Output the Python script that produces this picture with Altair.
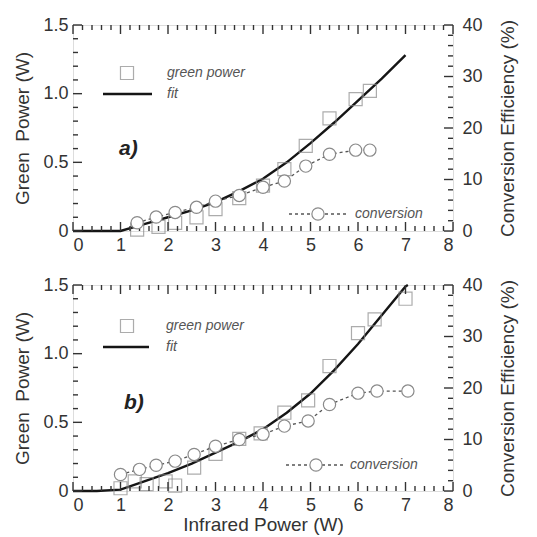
import altair as alt
import pandas as pd

# ---------------- Panel a) ----------------
ir_green_a = [1.35, 1.8, 2.15, 2.6, 3.0, 3.5, 4.0, 4.45, 4.9, 5.4, 5.95, 6.25]
green_a = [0.01, 0.03, 0.06, 0.10, 0.16, 0.24, 0.33, 0.45, 0.62, 0.82, 0.96, 1.02]
ir_conv_a = [1.35, 1.75, 2.15, 2.6, 3.0, 3.5, 4.0, 4.45, 4.9, 5.4, 5.95, 6.25]
conv_a = [1.6, 2.7, 3.6, 4.6, 5.8, 6.9, 8.5, 9.7, 12.6, 14.9, 15.7, 15.7]
fit_x_a = [0, 0.5, 1.0, 1.5, 2.0, 2.5, 3.0, 3.5, 4.0, 4.5, 5.0, 5.5, 6.0, 6.5, 7.0]
fit_a = [0, 0, 0.0, 0.05, 0.10, 0.15, 0.21, 0.29, 0.38, 0.50, 0.64, 0.79, 0.95, 1.11, 1.28]

# ---------------- Panel b) ----------------
ir_green_b = [1.0, 1.3, 1.55, 1.95, 2.15, 2.55, 3.0, 3.5, 3.95, 4.45, 4.95, 5.4, 6.0, 6.35, 7.0]
green_b = [0.02, 0.07, 0.05, 0.07, 0.04, 0.17, 0.27, 0.38, 0.42, 0.57, 0.66, 0.91, 1.15, 1.25, 1.40]
ir_conv_b = [1.0, 1.4, 1.75, 2.15, 2.55, 3.0, 3.5, 4.0, 4.45, 4.95, 5.4, 6.0, 6.4, 7.05]
conv_b = [3.2, 4.2, 5.0, 5.8, 7.1, 8.7, 10.0, 11.0, 12.6, 13.6, 16.8, 19.0, 19.4, 19.4]
fit_x_b = [0, 0.5, 1.0, 1.5, 2.0, 2.5, 3.0, 3.5, 4.0, 4.5, 5.0, 5.5, 6.0, 6.5, 7.0, 7.05]
fit_b = [0, 0, 0.01, 0.07, 0.13, 0.20, 0.28, 0.36, 0.45, 0.57, 0.71, 0.88, 1.07, 1.28, 1.49, 1.5]

# ---------------- Axis ticks ----------------
x_major = [0, 1, 2, 3, 4, 5, 6, 7, 8]
x_minor = [i / 5 for i in range(41) if i % 5]
g_major = [0, 0.5, 1.0, 1.5]
g_minor = [i / 10 for i in range(16) if i % 5]
c_major = [0, 10, 20, 30, 40]
c_minor = [i * 2 for i in range(21) if i % 5]

W, H = 380, 206
FONT = "Liberation Sans"
TXT = "#333333"
MARK = "#8a8a8a"


def tick_df(vals):
    return pd.DataFrame({"v": vals})


def panel(ir_g, green, ir_c, conv, fx, fy, tag, leg, show_title):
    xscale = alt.Scale(domain=[0, 8], nice=False, zero=False)
    gscale = alt.Scale(domain=[0, 1.5], nice=False)
    cscale = alt.Scale(domain=[0, 40], nice=False)
    xaxis = alt.Axis(values=x_major, ticks=False, domain=False, grid=False,
                     labelFontSize=18, labelFont=FONT, labelColor=TXT, labelPadding=5,
                     title="Infrared Power (W)" if show_title else None,
                     titleFontSize=19, titleFont=FONT, titleColor=TXT,
                     titleFontWeight="normal", titlePadding=1)
    gaxis = alt.Axis(values=g_major, ticks=False, domain=False, grid=False,
                     labelExpr="datum.value == 0 ? '0' : format(datum.value, '.1f')",
                     labelFontSize=18, labelFont=FONT, labelColor=TXT, labelPadding=5,
                     title="Green\u00a0 Power (W)", titleFontSize=19, titleFont=FONT,
                     titleColor=TXT, titleFontWeight="normal", titlePadding=10)
    caxis = alt.Axis(values=c_major, ticks=False, domain=False, grid=False, orient="right",
                     labelFontSize=18, labelFont=FONT, labelColor=TXT, labelPadding=9,
                     title="Conversion Efficiency (%)", titleFontSize=19, titleFont=FONT,
                     titleColor=TXT, titleFontWeight="normal", titleAngle=270,
                     titleBaseline="top", titlePadding=16)

    X = lambda f: alt.X(f, scale=xscale, axis=xaxis)
    YG = lambda f: alt.Y(f, scale=gscale, axis=gaxis)
    YC = lambda f: alt.Y(f, scale=cscale, axis=caxis)

    fit_df = pd.DataFrame({"x": fx, "y": fy})
    g_df = pd.DataFrame({"x": ir_g, "y": green})
    c_df = pd.DataFrame({"x": ir_c, "y": conv})

    fit = alt.Chart(fit_df).mark_line(color="#151515", strokeWidth=2.4).encode(
        x=X("x:Q"), y=YG("y:Q"))
    sq = alt.Chart(g_df).mark_point(shape="square", filled=False, size=170,
                                    color=MARK, strokeWidth=1.2).encode(
        x=X("x:Q"), y=YG("y:Q"))

    # inward ticks
    def xt(vals, ln, top):
        if top:
            return alt.Chart(tick_df(vals)).mark_rule(color="#333", strokeWidth=1.4).encode(
                x=X("v:Q"), y=alt.value(0), y2=alt.value(ln))
        return alt.Chart(tick_df(vals)).mark_rule(color="#333", strokeWidth=1.4).encode(
            x=X("v:Q"), y=alt.value(H), y2=alt.value(H - ln))

    gl_major = alt.Chart(tick_df(g_major)).mark_rule(color="#333", strokeWidth=1.4).encode(
        y=YG("v:Q"), x=alt.value(0), x2=alt.value(9))
    gl_minor = alt.Chart(tick_df(g_minor)).mark_rule(color="#333", strokeWidth=1.4).encode(
        y=YG("v:Q"), x=alt.value(0), x2=alt.value(5))

    # legend items (annotation)
    one = alt.Data(values=[{"a": 1}])
    leg_sq = alt.Chart(one).mark_point(shape="square", filled=False, size=170,
                                       color=MARK, strokeWidth=1.2).encode(
        x=alt.value(leg["sq"][0]), y=alt.value(leg["sq"][1]))
    leg_sq_t = alt.Chart(one).mark_text(text="green power", align="left", baseline="middle",
                                        fontStyle="italic", fontSize=14, font=FONT,
                                        color="#555").encode(
        x=alt.value(leg["txt_x"]), y=alt.value(leg["sq"][1]))
    leg_fit = alt.Chart(one).mark_rule(color="#151515", strokeWidth=2.4).encode(
        x=alt.value(leg["fit"][0]), x2=alt.value(leg["fit"][1]), y=alt.value(leg["fit"][2]))
    leg_fit_t = alt.Chart(one).mark_text(text="fit", align="left", baseline="middle",
                                         fontStyle="italic", fontSize=14, font=FONT,
                                         color="#555").encode(
        x=alt.value(leg["txt_x"]), y=alt.value(leg["fit"][2]))
    tag_t = alt.Chart(one).mark_text(text=tag, align="left", baseline="middle",
                                     fontStyle="italic", fontWeight="bold", fontSize=21,
                                     font=FONT, color="#222").encode(
        x=alt.value(leg["tag"][0]), y=alt.value(leg["tag"][1]))

    green_group = alt.layer(fit, sq, xt(x_major, 9, False), xt(x_minor, 5, False),
                            xt(x_major, 9, True), xt(x_minor, 5, True),
                            gl_major, gl_minor, leg_sq, leg_sq_t, leg_fit, leg_fit_t, tag_t)

    cline = alt.Chart(c_df).mark_line(color="#555", strokeWidth=1.3,
                                      strokeDash=[3, 3]).encode(x=X("x:Q"), y=YC("y:Q"))
    cpt = alt.Chart(c_df).mark_point(shape="circle", filled=True, fill="white", size=150,
                                     stroke=MARK, strokeWidth=1.2, opacity=1).encode(
        x=X("x:Q"), y=YC("y:Q"))
    cr_major = alt.Chart(tick_df(c_major)).mark_rule(color="#333", strokeWidth=1.4).encode(
        y=YC("v:Q"), x=alt.value(W), x2=alt.value(W - 9))
    cr_minor = alt.Chart(tick_df(c_minor)).mark_rule(color="#333", strokeWidth=1.4).encode(
        y=YC("v:Q"), x=alt.value(W), x2=alt.value(W - 5))
    cy = leg["conv"][3]
    leg_cl = alt.Chart(one).mark_rule(color="#555", strokeWidth=1.3, strokeDash=[3, 3]).encode(
        x=alt.value(leg["conv"][0]), x2=alt.value(leg["conv"][1]), y=alt.value(cy))
    leg_cp = alt.Chart(one).mark_point(shape="circle", filled=True, fill="white", size=150,
                                       stroke=MARK, strokeWidth=1.2, opacity=1).encode(
        x=alt.value(leg["conv"][2]), y=alt.value(cy))
    leg_ct = alt.Chart(one).mark_text(text="conversion", align="left", baseline="middle",
                                      fontStyle="italic", fontSize=14, font=FONT,
                                      color="#555").encode(
        x=alt.value(leg["conv"][1] + 6), y=alt.value(cy))

    conv_group = alt.layer(cline, cpt, cr_major, cr_minor, leg_cl, leg_cp, leg_ct)

    return alt.layer(green_group, conv_group).resolve_scale(y="independent").properties(
        width=W, height=H)


leg_a = {"sq": (54, 48), "txt_x": 94, "fit": (30, 79, 69), "tag": (46, 124),
         "conv": (216, 276, 245, 189)}
leg_b = {"sq": (54, 41), "txt_x": 93, "fit": (30, 76, 62), "tag": (51, 118),
         "conv": (213, 271, 243, 180)}

top = panel(ir_green_a, green_a, ir_conv_a, conv_a, fit_x_a, fit_a, "a)", leg_a, False)
bottom = panel(ir_green_b, green_b, ir_conv_b, conv_b, fit_x_b, fit_b, "b)", leg_b, True)

chart = alt.vconcat(top, bottom, spacing=20).configure_view(
    stroke="#222", strokeWidth=2).configure(
    background="white", padding={"left": 5, "top": 7, "right": 5, "bottom": 0})

chart.save("out.html", embed_options={"renderer": "svg", "actions": False})
